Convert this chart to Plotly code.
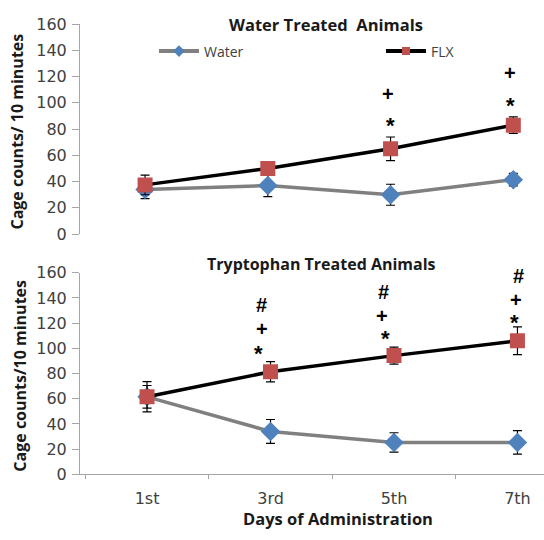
import plotly.graph_objects as go

days = ["1st", "3rd", "5th", "7th"]

# Top panel: Water treated animals
top_water = [34, 37, 30, 41.5]
top_water_err = [7, 8.5, 8, 4.7]
top_flx = [37.5, 50, 65, 83]
top_flx_err = [7.5, 5, 9, 6.3]

# Bottom panel: Tryptophan treated animals
bot_water = [61.5, 34, 25.3, 25.3]
bot_water_err = [9, 9.5, 7.7, 9.3]
bot_flx = [61.5, 81.4, 94.2, 106]
bot_flx_err = [12, 8, 6.7, 11]

# Significance markers (day, y value, symbol, x shift px)
top_sig_day = ["5th", "5th", "7th", "7th"]
top_sig_y = [107, 85.5, 123, 101.3]
top_sig_txt = ["+", "*", "+", "*"]
top_sig_dx = [-3, 0, -3, -3]

bot_sig_day = ["3rd", "3rd", "3rd", "5th", "5th", "5th", "7th", "7th", "7th"]
bot_sig_y = [134, 115.3, 99.2, 144.7, 125.6, 111, 157, 138.3, 123.5]
bot_sig_txt = ["#", "+", "*", "#", "+", "*", "#", "+", "*"]
bot_sig_dx = [-9, -9, -12, -10, -12, -8, 1, -1, -3]

yticks = [0, 20, 40, 60, 80, 100, 120, 140, 160]

FONT = "Open Sans"
TICK_FONT = "DejaVu Sans"
SYM_FONT = "Liberation Sans"
W_COLOR = "#4F81BD"
F_COLOR = "#C0504D"
TITLE_C = "#1a1a1a"
TICK_C = "#404040"

fig = go.Figure()

def add_pair(xa, ya, w, we, f, fe):
    fig.add_trace(go.Scatter(
        x=days, y=w, name="Water", xaxis=xa, yaxis=ya, mode="lines+markers",
        line=dict(color="#808080", width=3.5),
        marker=dict(symbol="diamond", size=15, color=W_COLOR),
        error_y=dict(type="data", array=we, color="black", thickness=1.2, width=4.5),
        showlegend=False))
    fig.add_trace(go.Scatter(
        x=days, y=f, name="FLX", xaxis=xa, yaxis=ya, mode="lines+markers",
        line=dict(color="black", width=3.5),
        marker=dict(symbol="square", size=15, color=F_COLOR),
        error_y=dict(type="data", array=fe, color="black", thickness=1.2, width=4.5),
        showlegend=False))

add_pair("x", "y", top_water, top_water_err, top_flx, top_flx_err)
add_pair("x2", "y2", bot_water, bot_water_err, bot_flx, bot_flx_err)

# legend entries (legend-only styling: smaller markers as in the reference)
fig.add_trace(go.Scatter(x=[None], y=[None], name="Water", mode="lines+markers",
                         line=dict(color="#808080", width=4),
                         marker=dict(symbol="diamond", size=9, color=W_COLOR),
                         legend="legend", showlegend=True))
fig.add_trace(go.Scatter(x=[None], y=[None], name="FLX", mode="lines+markers",
                         line=dict(color="black", width=4),
                         marker=dict(symbol="square", size=8, color=F_COLOR),
                         legend="legend2", showlegend=True))

def sig_ann(d, yv, t, dx, xref, yref):
    return dict(x=d, y=yv, xref=xref, yref=yref, text=f"<b>{t}</b>",
                showarrow=False, xshift=dx, yshift=(-4 if t == "*" else 0),
                xanchor="center", yanchor="middle",
                font=dict(family=SYM_FONT, size=(22 if t == "*" else 20), color="black"))

annotations = []
for d, yv, t, dx in zip(top_sig_day, top_sig_y, top_sig_txt, top_sig_dx):
    annotations.append(sig_ann(d, yv, t, dx, "x", "y"))
for d, yv, t, dx in zip(bot_sig_day, bot_sig_y, bot_sig_txt, bot_sig_dx):
    annotations.append(sig_ann(d, yv, t, dx, "x2", "y2"))

def label(x, y, text, size, angle=0):
    return dict(x=x/544, y=1-y/540, xref="paper", yref="paper", text=f"<b>{text}</b>",
                showarrow=False, textangle=angle, xanchor="center", yanchor="middle",
                font=dict(family=FONT, size=size, color=TITLE_C))

annotations += [
    label(326, 16, "Water Treated  Animals", 16.5),
    label(321, 264, "Tryptophan Treated Animals", 16),
    label(338, 528, "Days of Administration", 16.5),
    label(17, 127, "Cage counts/ 10 minutes", 16, -90),
    label(20, 380, "Cage counts/10 minutes", 16, -90),
]

axis_c = "#A6A6A6"
common_y = dict(range=[0, 160], tickvals=yticks, showline=True, linecolor=axis_c, linewidth=1,
                ticks="outside", tickcolor=axis_c, ticklen=7, showgrid=False, zeroline=False,
                tickfont=dict(family=TICK_FONT, size=16, color=TICK_C), ticklabelstandoff=2)
leg_common = dict(orientation="h", yanchor="middle", xanchor="left", bgcolor="rgba(0,0,0,0)",
                  font=dict(family=FONT, size=14, color=TICK_C), itemclick=False,
                  itemwidth=40, borderwidth=0)

fig.update_layout(
    width=544, height=540,
    margin=dict(l=0, r=0, t=0, b=0),
    paper_bgcolor="white", plot_bgcolor="white",
    font=dict(family=FONT, size=15, color=TICK_C),
    annotations=annotations,
    legend=dict(x=154/544, y=1-44/540, **leg_common),
    legend2=dict(x=381/544, y=1-44/540, **leg_common),
    xaxis=dict(domain=[80/544, 1], range=[-0.53, 3.25], type="category", showticklabels=False,
               showline=False, ticks="", showgrid=False, zeroline=False, anchor="y"),
    yaxis=dict(domain=[1-233.3/540, 1-15.7/540], anchor="x", **common_y),
    xaxis2=dict(domain=[80/544, 1], range=[-0.543, 3.215], type="category", showline=True,
                linecolor=axis_c, linewidth=1, ticks="outside", tickson="boundaries",
                tickcolor=axis_c, ticklen=4, showgrid=False, zeroline=False,
                anchor="y2", tickfont=dict(family=TICK_FONT, size=16, color=TICK_C),
                ticklabelstandoff=9),
    yaxis2=dict(domain=[1-482.3/540, 1-273.3/540], anchor="x2", **common_y),
)

fig.write_html("out.html")
